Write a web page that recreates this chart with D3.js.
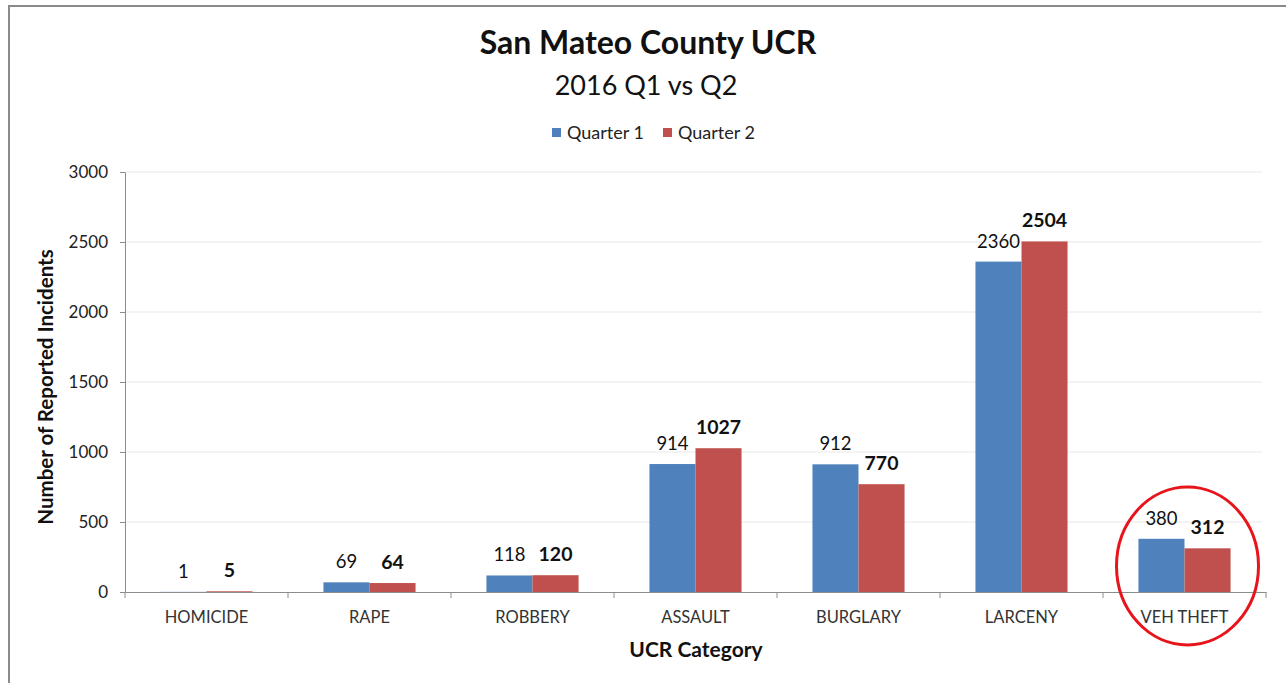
<!DOCTYPE html>
<html>
<head>
<meta charset="utf-8">
<script src="https://cdn.jsdelivr.net/npm/d3@7"></script>
<style>
  body { margin: 0; background: #fff; }
  text { font-family: Lato, "Open Sans", sans-serif; }
</style>
</head>
<body>
<div id="chart"></div>
<script>
// data
const categories = ["HOMICIDE", "RAPE", "ROBBERY", "ASSAULT", "BURGLARY", "LARCENY", "VEH THEFT"];
const quarter1 = [1, 69, 118, 914, 912, 2360, 380];
const quarter2 = [5, 64, 120, 1027, 770, 2504, 312];
const seriesNames = ["Quarter 1", "Quarter 2"];
const yTicks = [0, 500, 1000, 1500, 2000, 2500, 3000];

const width = 1286, height = 683;
const margin = {top: 172, right: 20, bottom: 91, left: 125};
const colors = ["#4F81BD", "#C0504D"];

const svg = d3.select("#chart").append("svg")
  .attr("width", width)
  .attr("height", height);

// outer frame (only top & left edges show in the picture)
svg.append("path")
  .attr("d", `M9,${height} V6 H${width}`)
  .attr("fill", "none")
  .attr("stroke", "#8a8a8a")
  .attr("stroke-width", 2);

const x = d3.scaleBand()
  .domain(categories)
  .range([margin.left, 1266]);

const y = d3.scaleLinear()
  .domain([0, 3000])
  .range([height - margin.bottom, margin.top]);

// two bars per group, ~46px each inside a ~163px band
const inner = d3.scaleBand()
  .domain([0, 1])
  .range([0, x.bandwidth()])
  .paddingOuter(0.77);

// gridlines
svg.append("g")
  .selectAll("line")
  .data(yTicks.slice(1))
  .join("line")
  .attr("x1", margin.left)
  .attr("x2", 1262)
  .attr("y1", d => y(d))
  .attr("y2", d => y(d))
  .attr("stroke", "#e8e8e8");

// y axis
const yAxis = svg.append("g")
  .attr("transform", `translate(${margin.left},0)`)
  .call(d3.axisLeft(y).tickValues(yTicks).tickFormat(d3.format("d"))
    .tickSize(5).tickPadding(12).tickSizeOuter(0));
yAxis.select(".domain").attr("stroke", "#8c8c8c");
yAxis.selectAll(".tick line").attr("stroke", "#8c8c8c");
yAxis.selectAll("text")
  .attr("font-size", 17)
  .attr("fill", "#222");

// bars
const series = [quarter1, quarter2];
const groups = svg.append("g")
  .selectAll("g")
  .data(categories)
  .join("g")
  .attr("transform", d => `translate(${x(d)},0)`);

groups.selectAll("rect")
  .data((d, i) => series.map((s, k) => ({k, v: s[i]})))
  .join("rect")
  .attr("x", d => inner(d.k))
  .attr("width", inner.bandwidth())
  .attr("y", d => y(d.v))
  .attr("height", d => y(0) - y(d.v))
  .attr("fill", d => colors[d.k]);

groups.selectAll("text.val")
  .data((d, i) => series.map((s, k) => ({k, v: s[i]})))
  .join("text")
  .attr("class", "val")
  .attr("x", d => inner(d.k) + inner.bandwidth() / 2)
  .attr("y", d => y(d.v) - 14)
  .attr("text-anchor", "middle")
  .attr("font-size", d => d.k === 1 ? 19.5 : 18.5)
  .attr("font-weight", d => d.k === 1 ? "bold" : "normal")
  .attr("fill", "#111")
  .text(d => d.v);

// x axis
const xAxis = svg.append("g")
  .attr("transform", `translate(0,${y(0)})`)
  .call(d3.axisBottom(x).tickSize(0).tickPadding(19));
xAxis.select(".domain").attr("stroke", "#8c8c8c");
xAxis.selectAll("text")
  .attr("font-size", 16.5)
  .attr("fill", "#333");
// boundary ticks between categories
svg.append("g")
  .selectAll("line")
  .data(categories.map(d => x(d)).concat([x.range()[1]]))
  .join("line")
  .attr("x1", d => d).attr("x2", d => d)
  .attr("y1", y(0)).attr("y2", y(0) + 6)
  .attr("stroke", "#8c8c8c");

// titles
svg.append("text")
  .attr("x", 648).attr("y", 54)
  .attr("text-anchor", "middle")
  .attr("font-size", 32).attr("font-weight", "bold")
  .attr("fill", "#111")
  .text("San Mateo County UCR");

svg.append("text")
  .attr("x", 646).attr("y", 95)
  .attr("text-anchor", "middle")
  .attr("font-size", 27)
  .attr("fill", "#111")
  .text("2016 Q1 vs Q2");

svg.append("text")
  .attr("x", 696).attr("y", 657)
  .attr("text-anchor", "middle")
  .attr("font-size", 21).attr("font-weight", "bold")
  .attr("fill", "#111")
  .text("UCR Category");

svg.append("text")
  .attr("transform", `translate(53,${(y(0) + y(3000)) / 2 + 5}) rotate(-90)`)
  .attr("text-anchor", "middle")
  .attr("font-size", 20.5).attr("font-weight", "bold")
  .attr("fill", "#111")
  .text("Number of Reported Incidents");

// legend
const legend = svg.append("g").attr("transform", "translate(552,133)");
const legendItems = legend.selectAll("g")
  .data(seriesNames)
  .join("g")
  .attr("transform", (d, i) => `translate(${i * 111},0)`);
legendItems.append("rect")
  .attr("x", 0).attr("y", -5)
  .attr("width", 9).attr("height", 9)
  .attr("fill", (d, i) => colors[i]);
legendItems.append("text")
  .attr("x", 15).attr("y", 6)
  .attr("font-size", 18)
  .attr("fill", "#222")
  .text(d => d);

// red hand-drawn circle around VEH THEFT
const last = categories[categories.length - 1];
svg.append("ellipse")
  .attr("cx", x(last) + x.bandwidth() / 2 + 3)
  .attr("cy", 566)
  .attr("rx", 71)
  .attr("ry", 79)
  .attr("fill", "none")
  .attr("stroke", "#e8141b")
  .attr("stroke-width", 3);
</script>
</body>
</html>
